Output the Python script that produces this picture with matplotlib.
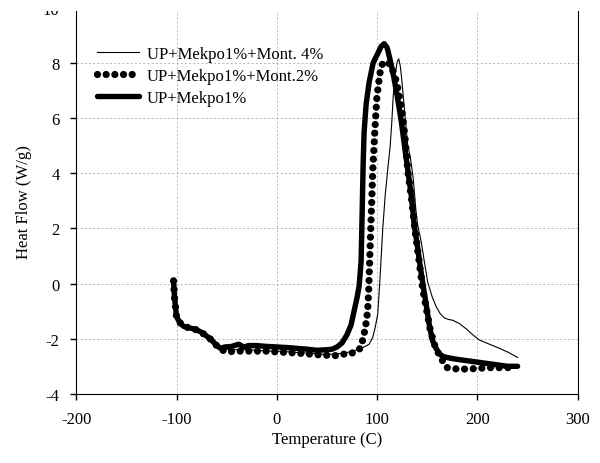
import numpy as np
import matplotlib
matplotlib.use("Agg")
from matplotlib import pyplot as plt
from matplotlib.patches import Rectangle

plt.rcParams['font.family'] = ['Liberation Serif', 'DejaVu Serif']
plt.rcParams['axes.unicode_minus'] = False

# UP+Mekpo1%+Mont. 4%  (thin line)
t_m4 = [-103, -102, -100, -97, -93, -88, -82, -76, -70, -65, -60, -55, -50, -40, -30, -20, -10, 0,
        10, 20, 30, 40, 50, 60, 70, 80, 88, 92, 95.6, 98, 100.6, 102, 103, 105.6, 108, 111, 113,
        114.5, 116, 118, 120, 121.5, 123, 124.5, 127.5, 130.5, 133, 136, 138.5, 140.5, 144, 147,
        150.4, 155, 159, 163, 167.3, 171, 175.3, 182, 189, 195, 202, 212, 222, 231, 240]
h_m4 = [0.1, -0.5, -1.2, -1.4, -1.55, -1.6, -1.65, -1.75, -1.9, -2.05, -2.25, -2.35, -2.38, -2.4,
        -2.4, -2.42, -2.45, -2.45, -2.47, -2.5, -2.52, -2.55, -2.57, -2.55, -2.5, -2.4, -2.28, -2.2,
        -1.95, -1.6, -1.1, -0.3, 0.3, 2.0, 3.2, 4.3, 5.0, 5.8, 6.8, 7.6, 8.05, 8.15, 7.9, 7.4, 6.2,
        5.0, 4.6, 3.8, 2.7, 2.1, 1.5, 0.8, 0.05, -0.5, -0.85, -1.1, -1.25, -1.3, -1.33, -1.45,
        -1.65, -1.85, -2.05, -2.2, -2.35, -2.5, -2.68]

# UP+Mekpo1%+Mont.2%  (dotted)
t_m2 = [-103, -102, -100, -97, -93, -88, -82, -76, -70, -65, -60, -55, -50, -40, -30, -20, -10, 0,
        10, 20, 30, 40, 50, 56, 62, 68, 72, 76, 80, 83, 86, 88.5, 90.5, 91.6, 92.6, 93.6, 94.6,
        95.6, 97.6, 99.6, 102.6, 105.5, 109, 113, 117, 120, 124.5, 127.5, 130.5, 134.5, 137.5,
        141.5, 145.4, 149, 153, 157, 162, 166, 170, 180, 190, 200, 210, 220, 230, 237]
h_m2 = [0.1, -0.5, -1.2, -1.4, -1.55, -1.6, -1.65, -1.75, -1.9, -2.05, -2.25, -2.4, -2.48, -2.45,
        -2.45, -2.45, -2.45, -2.48, -2.5, -2.52, -2.55, -2.58, -2.6, -2.62, -2.6, -2.55, -2.5,
        -2.52, -2.45, -2.35, -2.0, -1.55, -1.0, -0.2, 0.9, 2.0, 3.0, 4.1, 5.5, 6.7, 7.6, 8.0,
        8.05, 7.95, 7.6, 7.2, 6.3, 5.4, 4.1, 3.0, 2.0, 0.9, -0.2, -0.9, -1.7, -2.2, -2.6, -2.85,
        -3.05, -3.1, -3.1, -3.08, -3.05, -3.05, -3.05, -3.0]

# UP+Mekpo1%  (thick line)
t_up = [-103, -102, -100, -97, -93, -88, -82, -76, -70, -65, -60, -56, -52, -45, -38, -33, -28,
        -20, -10, 0, 10, 20, 30, 40, 50, 55, 60, 65, 70, 74, 77, 80, 82, 84, 85, 86, 87, 89, 92,
        96, 100, 104, 107, 110, 113, 116, 120, 124, 128, 131, 134, 137, 140, 143, 146, 149, 152,
        155, 158, 162, 166, 172, 180, 190, 200, 210, 220, 230, 240]
h_up = [0.1, -0.5, -1.2, -1.4, -1.55, -1.6, -1.65, -1.75, -1.9, -2.05, -2.25, -2.35, -2.3, -2.28,
        -2.2, -2.3, -2.25, -2.25, -2.28, -2.3, -2.32, -2.35, -2.38, -2.42, -2.4, -2.38, -2.3,
        -2.15, -1.85, -1.5, -1.0, -0.5, -0.1, 0.8, 2.5, 4.3, 5.5, 6.5, 7.3, 8.0, 8.3, 8.6, 8.7,
        8.55, 8.1, 7.6, 6.8, 5.9, 4.8, 4.0, 3.2, 2.1, 1.4, 0.6, -0.1, -0.8, -1.5, -2.05, -2.3,
        -2.55, -2.65, -2.7, -2.75, -2.8, -2.85, -2.9, -2.95, -3.0, -3.0]

fig = plt.figure(figsize=(6, 4.64), dpi=100)
ax = fig.add_axes([0.127, 0.149, 0.836, 0.832])

ax.plot(t_m4, h_m4, color='black', lw=0.8, label='UP+Mekpo1%+Mont. 4%')
ax.plot(t_m2, h_m2, color='black', lw=5.2, linestyle=(0, (0.001, 1.2)),
        dash_capstyle='round', label='UP+Mekpo1%+Mont.2%')
ax.plot(t_up, h_up, color='black', lw=3.9, solid_capstyle='round', label='UP+Mekpo1%')

ax.set_xlim(-200, 300)
ax.set_ylim(-4, 10)
ax.set_xticks(np.arange(-200, 301, 100))
ax.set_yticks(np.arange(-4, 11, 2))
ax.grid(True, color='0.62', lw=0.5, linestyle=(0, (3, 3)))
ax.spines['top'].set_visible(False)
ax.tick_params(direction='out', length=4, width=1, labelsize=12, pad=8)

ax.set_xlabel('Temperature (C)', fontsize=12, labelpad=3)
ax.set_ylabel('Heat Flow (W/g)', fontsize=12, labelpad=8)

ax.legend(loc='upper left', bbox_to_anchor=(0.028, 0.918), frameon=False, fontsize=12,
          handlelength=2.5, labelspacing=0.35, handletextpad=0.5, borderaxespad=0)

# the scanned original is cropped just above the top of the frame
fig.add_artist(Rectangle((0, 1 - 12 / 464), 1, 12 / 464, transform=fig.transFigure,
                         facecolor='white', edgecolor='none', zorder=10))

fig.savefig('out.png', dpi=100)
